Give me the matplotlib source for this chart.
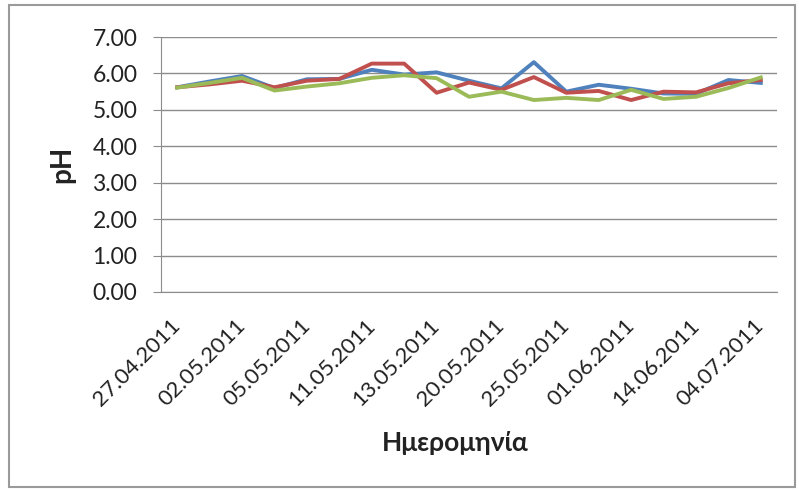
import matplotlib.pyplot as plt
from matplotlib.patches import Rectangle

plt.rcParams['font.family'] = ['Lato', 'DejaVu Sans']

# category axis: every point is a sampling date, only every other one is labelled
tick_labels = ["27.04.2011", "02.05.2011", "05.05.2011", "11.05.2011", "13.05.2011",
               "20.05.2011", "25.05.2011", "01.06.2011", "14.06.2011", "04.07.2011"]
n_points = 19

blue = [5.62, 5.78, 5.93, 5.60, 5.84, 5.85, 6.10, 5.97, 6.03, 5.80,
        5.59, 6.31, 5.50, 5.69, 5.58, 5.45, 5.44, 5.82, 5.74]
red = [5.62, 5.70, 5.80, 5.62, 5.80, 5.85, 6.27, 6.27, 5.47, 5.75,
       5.55, 5.90, 5.47, 5.52, 5.27, 5.50, 5.48, 5.73, 5.82]
green = [5.61, 5.74, 5.88, 5.53, 5.64, 5.73, 5.88, 5.95, 5.87, 5.36,
         5.50, 5.27, 5.33, 5.27, 5.55, 5.30, 5.36, 5.60, 5.89]

fig = plt.figure(figsize=(7.99, 4.91), dpi=100)
ax = fig.add_axes([0.2015, 0.4053, 0.771, 0.5193])

x = list(range(n_points))
ax.plot(x, blue, color='#4F81BD', lw=2.8, zorder=3)
ax.plot(x, red, color='#C0504D', lw=2.8, zorder=4)
ax.plot(x, green, color='#9BBB59', lw=2.8, zorder=5)

ax.set_xlim(-0.5, n_points - 0.5)
ax.set_ylim(0, 7)
ax.set_yticks([0, 1, 2, 3, 4, 5, 6, 7])
ax.set_yticklabels([f"{v:.2f}" for v in range(8)])
ax.set_xticks(range(0, n_points, 2))
ax.set_xticklabels(tick_labels, rotation=45, ha='right', va='center',
                   rotation_mode='anchor')

ax.yaxis.grid(True, color='#8c8c8c', lw=1)
ax.set_axisbelow(True)
for s in ['top', 'right']:
    ax.spines[s].set_visible(False)
ax.spines['left'].set_color('#8c8c8c')
ax.spines['bottom'].set_color('#8c8c8c')

ax.tick_params(axis='y', length=6, pad=11, labelsize=16.5, colors='#8c8c8c',
               labelcolor='#222222')
ax.tick_params(axis='x', length=0, pad=22, labelsize=16, labelcolor='#222222')

ax.set_ylabel("pH", fontsize=20, fontweight='bold', color='#222222', labelpad=12)
fig.text(455 / 799, 1 - 443 / 491, "Ημερομηνία", fontsize=19, fontweight='bold',
         color='#222222', ha='center', va='center')

fig.patches.append(Rectangle((0.011, 0.008), 0.984, 0.982, transform=fig.transFigure,
                             fill=False, edgecolor='#9a9a9a', lw=1.5))

fig.savefig("out.png", dpi=100)
